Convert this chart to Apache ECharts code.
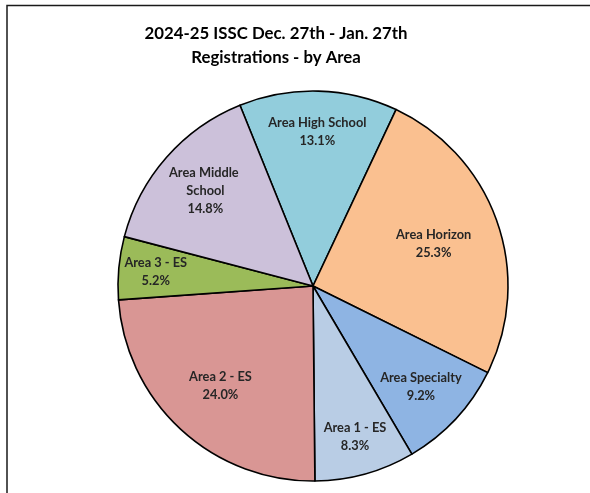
<!DOCTYPE html>
<html>
<head>
<meta charset="utf-8">
<script src="https://cdn.jsdelivr.net/npm/echarts@6/dist/echarts.min.js"></script>
<style>
  html, body { margin: 0; padding: 0; background: #ffffff; }
  #chart { width: 590px; height: 493px; }
</style>
</head>
<body>
<div id="chart"></div>
<script>
// Registrations share per area, clockwise from the top
const areas = ['Area High School', 'Area Horizon', 'Area Specialty', 'Area 1 - ES', 'Area 2 - ES', 'Area 3 - ES', 'Area Middle School'];
const shares = [13.1, 25.3, 9.2, 8.3, 24.0, 5.2, 14.8];
const sliceColors = ['#92CDDC', '#FAC090', '#8EB4E3', '#B9CDE5', '#D99694', '#9BBB59', '#CCC1DA'];
// how far out along each slice its label sits (fraction of the radius)
const labelRadius = [0.79, 0.655, 0.756, 0.805, 0.70, 0.81, 0.735];

const FONT = 'Lato, "Open Sans", "DejaVu Sans", sans-serif';
const chart = echarts.init(document.getElementById('chart'), null, { renderer: 'canvas' });

const option = {
  backgroundColor: '#ffffff',
  animation: false,
  title: {
    text: '2024-25 ISSC Dec. 27th - Jan. 27th\nRegistrations - by Area',
    left: 271,
    top: 17,
    textAlign: 'center',
    textStyle: {
      fontFamily: FONT,
      fontSize: 16.8,
      fontWeight: 'bold',
      color: '#000000',
      lineHeight: 24
    }
  },
  graphic: [{
    type: 'polyline',
    shape: { points: [[7, 493], [7, 5.5], [590, 5.5]] },
    style: { stroke: '#1a1a1a', lineWidth: 1.5, fill: null },
    silent: true
  }],
  series: [{
    type: 'pie',
    center: [313, 286],
    radius: [0, 195],
    startAngle: 112,
    clockwise: true,
    avoidLabelOverlap: false,
    itemStyle: { borderColor: '#000000', borderWidth: 1.6 },
    label: {
      show: true,
      position: 'inside',
      fontFamily: FONT,
      fontSize: 12.8,
      fontWeight: 'bold',
      color: '#262626',
      lineHeight: 18,
      formatter: function (p) { return p.name + '\n' + p.value.toFixed(1) + '%'; }
    },
    labelLine: { show: false },
    labelLayout: function (p) {
      const data = chart.getModel().getSeriesByIndex(0).getData();
      const lay = data.getItemLayout(p.dataIndex);
      const mid = (lay.startAngle + lay.endAngle) / 2;
      const rr = lay.r * labelRadius[p.dataIndex];
      return { x: lay.cx + rr * Math.cos(mid), y: lay.cy + rr * Math.sin(mid) };
    },
    emphasis: { disabled: true },
    data: areas.map(function (name, i) {
      const item = { name: name, value: shares[i], itemStyle: { color: sliceColors[i] } };
      if (name === 'Area Middle School') {
        item.label = { width: 90, overflow: 'break' };
      }
      return item;
    })
  }]
};

chart.setOption(option);
</script>
</body>
</html>
